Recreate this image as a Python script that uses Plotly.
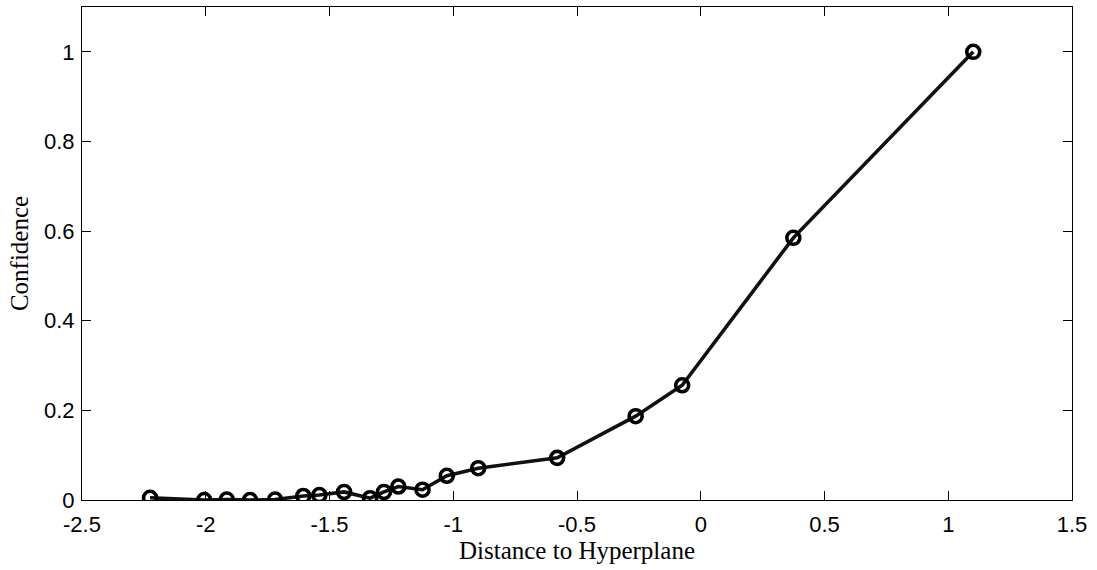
import plotly.graph_objects as go

distance = [-2.225, -2.006, -1.915, -1.821, -1.720, -1.606, -1.541, -1.441, -1.336,
            -1.280, -1.222, -1.124, -1.026, -0.899, -0.580, -0.263, -0.075, 0.374, 1.101]
confidence = [0.005, 0.0, 0.001, 0.0, 0.001, 0.009, 0.011, 0.018, 0.004,
              0.018, 0.030, 0.023, 0.054, 0.071, 0.094, 0.187, 0.256, 0.585, 1.0]

x_ticks = [-2.5, -2, -1.5, -1, -0.5, 0, 0.5, 1, 1.5]
x_labels = ["-2.5", "-2", "-1.5", "-1", "-0.5", "0", "0.5", "1", "1.5"]
y_ticks = [0, 0.2, 0.4, 0.6, 0.8, 1]
y_labels = ["0", "0.2", "0.4", "0.6", "0.8", "1"]

fig = go.Figure()
fig.add_trace(go.Scatter(
    x=distance, y=confidence, mode="lines+markers",
    line=dict(color="#111111", width=3.6),
    marker=dict(symbol="circle-open", size=13, color="#000000", line=dict(width=3.6, color="#000000")),
    showlegend=False,
))

tick_font = dict(family="Liberation Sans, Arial, sans-serif", size=22, color="#000000")
title_font = dict(family="Liberation Serif, Times New Roman, serif", size=25, color="#000000")

fig.update_layout(
    width=1097, height=570,
    margin=dict(l=82, r=25, t=7, b=70),
    paper_bgcolor="white", plot_bgcolor="white",
    xaxis=dict(
        range=[-2.5, 1.5], tickvals=x_ticks, ticktext=x_labels,
        ticks="inside", ticklen=9, tickwidth=1, tickcolor="#000000",
        showline=True, linecolor="#000000", linewidth=1, mirror="ticks",
        showgrid=False, zeroline=False, tickfont=tick_font, ticklabelstandoff=5,
        title=dict(text="Distance to Hyperplane", font=title_font, standoff=4),
    ),
    yaxis=dict(
        range=[0, 1.1], tickvals=y_ticks, ticktext=y_labels,
        ticks="inside", ticklen=9, tickwidth=1, tickcolor="#000000",
        showline=True, linecolor="#000000", linewidth=1, mirror="ticks",
        showgrid=False, zeroline=False, tickfont=tick_font, ticklabelstandoff=2,
        title=dict(text="Confidence", font=title_font, standoff=8),
    ),
)

fig.write_html("out.html")
